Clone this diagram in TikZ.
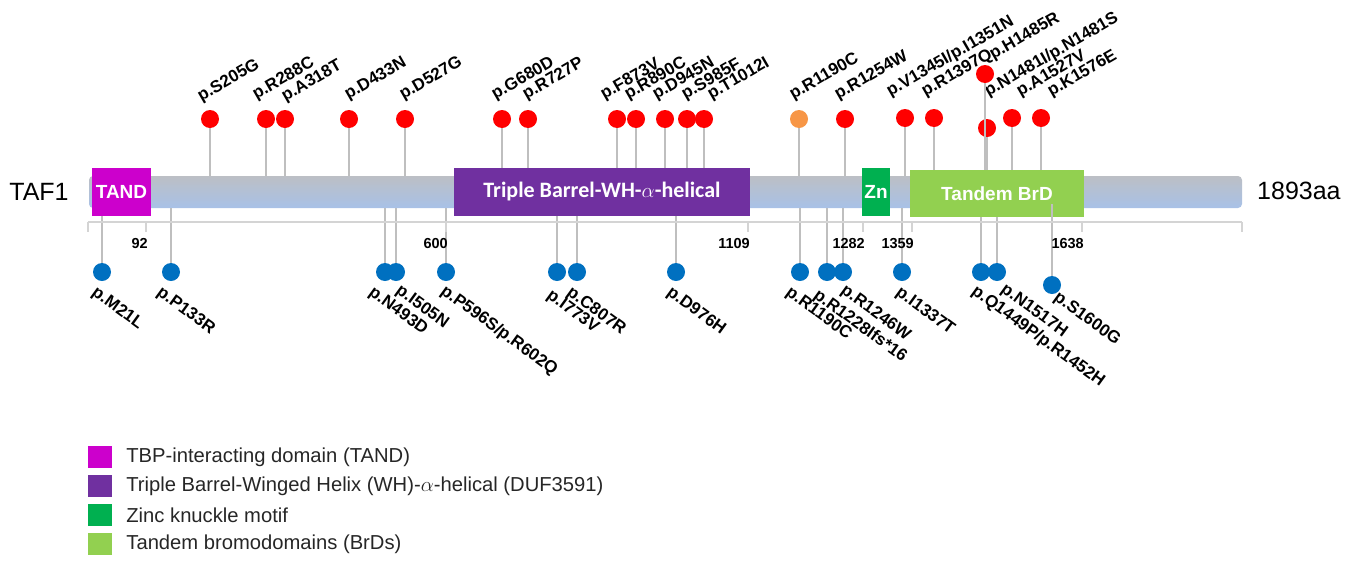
\documentclass[tikz,border=0pt]{standalone}
\usepackage{fontspec}
\setmainfont{Liberation Sans}
\newfontfamily\carlito{Carlito}
\usetikzlibrary{positioning}

\definecolor{tandcol}{HTML}{CC00CC}
\definecolor{dufcol}{HTML}{7030A0}
\definecolor{zncol}{HTML}{00B050}
\definecolor{brdcol}{HTML}{92D050}
\definecolor{mutred}{HTML}{FF0000}
\definecolor{mutorange}{HTML}{F79646}
\definecolor{mutblue}{HTML}{0070C0}
\definecolor{stemgray}{HTML}{BFBFBF}
\definecolor{axisgray}{HTML}{D4D4D4}
\definecolor{bargray}{HTML}{BCBFC5}
\definecolor{barblue}{HTML}{A8C1E7}

\begin{document}
\begin{tikzpicture}[x=1pt,y=-1pt,
	mutdot/.style={circle,inner sep=0pt,minimum size=18pt,fill=#1},
	mutstem/.style={stemgray,line width=2pt},
	toplab/.style={anchor=south west,inner sep=0pt,rotate=30,font=\fontsize{17}{17}\selectfont\bfseries},
	botlab/.style={anchor=north west,inner sep=0pt,rotate=-36,font=\fontsize{17}{17}\selectfont\bfseries},
	domainbox/.style={inner sep=0pt,minimum height=48pt,text=white,font=\fontsize{19}{19}\selectfont\bfseries},
	axtick/.style={axisgray,line width=1.5pt},
	ticklab/.style={anchor=north east,inner sep=0pt,font=\fontsize{14.5}{14.5}\selectfont\bfseries},
	legbox/.style={inner sep=0pt,minimum width=24pt,minimum height=22pt},
	legtext/.style={inner sep=0pt,text=black!85,font=\fontsize{20.2}{20.2}\selectfont}]
	\useasboundingbox (0,0) rectangle (1360,560);

	% protein backbone
	\node[top color=bargray,bottom color=barblue,rounded corners=4pt,inner sep=0pt,
		minimum width=1153pt,minimum height=32pt] (bar) at (665.5,192) {};
	\node[font=\fontsize{25}{25}\selectfont] (taf) at (39,192) {TAF1};
	\node[anchor=west,inner sep=0pt,font=\fontsize{25}{25}\selectfont] (len) at (1257,191) {1893aa};

	% mutations above
	\foreach \n/\x/\y/\c/\lx/\ly/\t in {
		s205/210/119/mutred/203/105/p.S205G,
		r288/266/119/mutred/258/103/p.R288C,
		a318/285/119/mutred/287/105/p.A318T,
		d433/349/119/mutred/350/103/p.D433N,
		d527/405/119/mutred/405/103/p.D527G,
		g680/502/119/mutred/497/103/p.G680D,
		r727/528/119/mutred/528/103/p.R727P,
		f873/617/119/mutred/606/103/p.F873V,
		r890/636/119/mutred/630/103/p.R890C,
		d945/665/119/mutred/658/103/p.D945N,
		s985/687/119/mutred/687/103/p.S985F,
		t1012/704/119/mutred/713/103/p.T1012I,
		r1190/799/119/mutorange/795/103/p.R1190C,
		r1254/845/119/mutred/840/103/p.R1254W,
		v1345/905/118/mutred/892/100/{p.V1345I/p.I1351N},
		r1397/934/118/mutred/927/100/p.R1397Q,
		n1481/987/128/mutred/990/100/{p.N1481I/p.N1481S},
		h1485/985/74/mutred/995/63/p.H1485R,
		a1527/1012/118/mutred/1022/100/p.A1527V,
		k1576/1041/118/mutred/1053/100/p.K1576E}
	{
		\node[mutdot=\c] (\n) at (\x,\y) {};
		\draw[mutstem] (\n.south) -- (\n.south |- bar.north);
		\node[toplab] (\n-l) at (\lx,\ly) {\t};
	}

	% mutations below
	\foreach \n/\x/\y/\lx/\ly/\t in {
		m21/102/272/98/285/p.M21L,
		p133/171/272/163/285/p.P133R,
		n493/385/272/375/285/p.N493D,
		i505/396/272/402/283/p.I505N,
		p596/446/272/447/283/{p.P596S/p.R602Q},
		i773/557/272/553/288/p.I773V,
		c807/577/272/573/285/p.C807R,
		d976/676/272/673/285/p.D976H,
		r1190b/800/272/792/285/p.R1190C,
		r1228/827/272/820/287/p.R1228Ifs*16,
		r1246/843/272/847/283/p.R1246W,
		i1337/902/272/902/285/p.I1337T,
		q1449/981/272/978/283/{p.Q1449P/p.R1452H},
		n1517/997/272/1007/282/p.N1517H,
		s1600/1052/285/1060/290/p.S1600G}
	{
		\node[mutdot=mutblue] (\n) at (\x,\y) {};
		\draw[mutstem] (\n.north) -- (\n.north |- bar.south);
		\node[botlab] (\n-l) at (\lx,\ly) {\t};
	}

	% domains
	\node[domainbox,fill=tandcol,minimum width=59pt] (tand) at (121.5,192) {TAND};
	\node[domainbox,fill=dufcol,minimum width=296pt,font=\fontsize{22}{22}\selectfont\carlito\bfseries]
		(duf) at (602,192) {Triple Barrel-WH-$\alpha$-helical};
	\node[domainbox,fill=zncol,minimum width=28pt] (zn) at (876,192) {Zn};
	\node[domainbox,fill=brdcol,minimum width=174pt,minimum height=47pt] (brd) at (997,193.5) {Tandem BrD};
	\draw[mutstem] (s1600.north) -- ++(0,-72);

	% scale
	\draw[axtick] (88,222) -- (1242,222);
	\foreach \t in {88,146,446,748,863,912,1082,1242}
		\draw[axtick] (\t,222) -- (\t,232);
	\foreach \t/\v in {146/92,446/600,748/1109,863/1282,912/1359,1082/1638}
		\node[ticklab] (tick\v) at (\t+2,238) {\v};

	% legend
	\foreach \i/\c/\t in {1/tandcol/{TBP-interacting domain (TAND)},
		2/dufcol/{Triple Barrel-Winged Helix (WH)-$\alpha$-helical (DUF3591)},
		3/zncol/{Zinc knuckle motif},
		4/brdcol/{Tandem bromodomains (BrDs)}}
	{
		\node[legbox,fill=\c] (key\i) at (100,428+29*\i) {};
		\node[legtext,right=14pt of key\i] (keytext\i) {\t};
	}
\end{tikzpicture}
\end{document}
